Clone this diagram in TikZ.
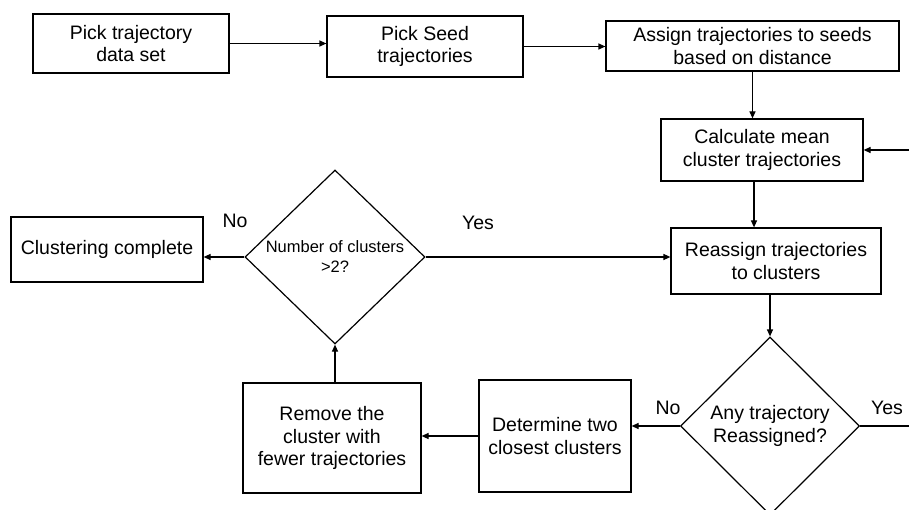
\documentclass[tikz,border=0pt]{standalone}
\usepackage{fontspec}
\setmainfont{Liberation Sans}
\usetikzlibrary{arrows.meta,shapes.geometric}
\newcommand\flowtext{\fontsize{19.5}{22.5}\selectfont}
\newcommand\flowsmall{\fontsize{16.5}{20}\selectfont}
\begin{document}
\begin{tikzpicture}[x=1pt,y=-1pt,
  line width=1.2pt,
  box/.style={draw, rectangle, inner sep=0pt, align=center, font=\flowtext},
  decision/.style={draw, diamond, inner sep=0pt},
  arr/.style={-{Triangle[length=7pt,width=6pt]}},
  lbl/.style={font=\flowtext, inner sep=0pt}]
\clip (0,0) rectangle (909,510);
\fill[white] (0,0) rectangle (909,510);

% process boxes
\node[box, minimum width=196pt, minimum height=59pt] (pick) at (131,43.5) {Pick trajectory\\data set};
\node[box, minimum width=196pt, minimum height=61pt] (seed) at (425,46.5) {Pick Seed\\trajectories};
\node[box, minimum width=293pt, minimum height=50pt] (assign) at (752.5,46) {Assign trajectories to seeds\\based on distance};
\node[box, minimum width=202pt, minimum height=62pt] (mean) at (762,150) {Calculate mean\\cluster trajectories};
\node[box, minimum width=210pt, minimum height=66pt] (reass) at (776,261) {Reassign trajectories\\to clusters};
\node[box, minimum width=152pt, minimum height=112pt] (closest) at (555,436) {Determine two\\closest clusters};
\node[box, minimum width=178pt, minimum height=110pt] (remove) at (332,438) {Remove the\\cluster with\\fewer trajectories};
\node[box, minimum width=192pt, minimum height=65pt] (done) at (107,249.5) {Clustering complete};

% decisions
\node[decision, minimum width=179pt, minimum height=178pt,
  label={[font=\flowtext, align=center]center:Any trajectory\\Reassigned?}] (moved) at (770,426) {};
\node[decision, minimum width=180pt, minimum height=174pt,
  label={[font=\flowsmall, align=center]center:Number of clusters\\>2?}] (count) at (335,257) {};

% loose ends of the loop back to the mean step
\coordinate (loopout) at (909,426);
\coordinate (loopin) at (909,150);

% connectors
\draw[arr] (pick.east) -- (pick.east -| seed.west);
\draw[arr] (seed.east) -- (seed.east -| assign.west);
\draw[arr] (assign.south) -- (assign.south |- mean.north);
\draw[arr] ([xshift=-8pt]mean.south) -- ([xshift=-8pt]mean.south |- reass.north);
\draw[arr] (reass.south -| moved.north) -- (moved.north);
\draw[arr] (moved.west) -- (moved.west -| closest.east);
\draw[arr] (closest.west) -- (closest.west -| remove.east);
\draw[arr] (remove.north -| count.south) -- (count.south);
\draw[arr] (count.west) -- (count.west -| done.east);
\draw[arr] (count.east) -- (count.east -| reass.west);
\draw (moved.east) -- (loopout);
\draw[arr] (loopin) -- (mean.east);

% branch labels
\node[lbl] (nocount) at (235,221) {No};
\node[lbl] (yescount) at (478,223) {Yes};
\node[lbl] (nomoved) at (668,408) {No};
\node[lbl] (yesmoved) at (887,408) {Yes};
\end{tikzpicture}
\end{document}
